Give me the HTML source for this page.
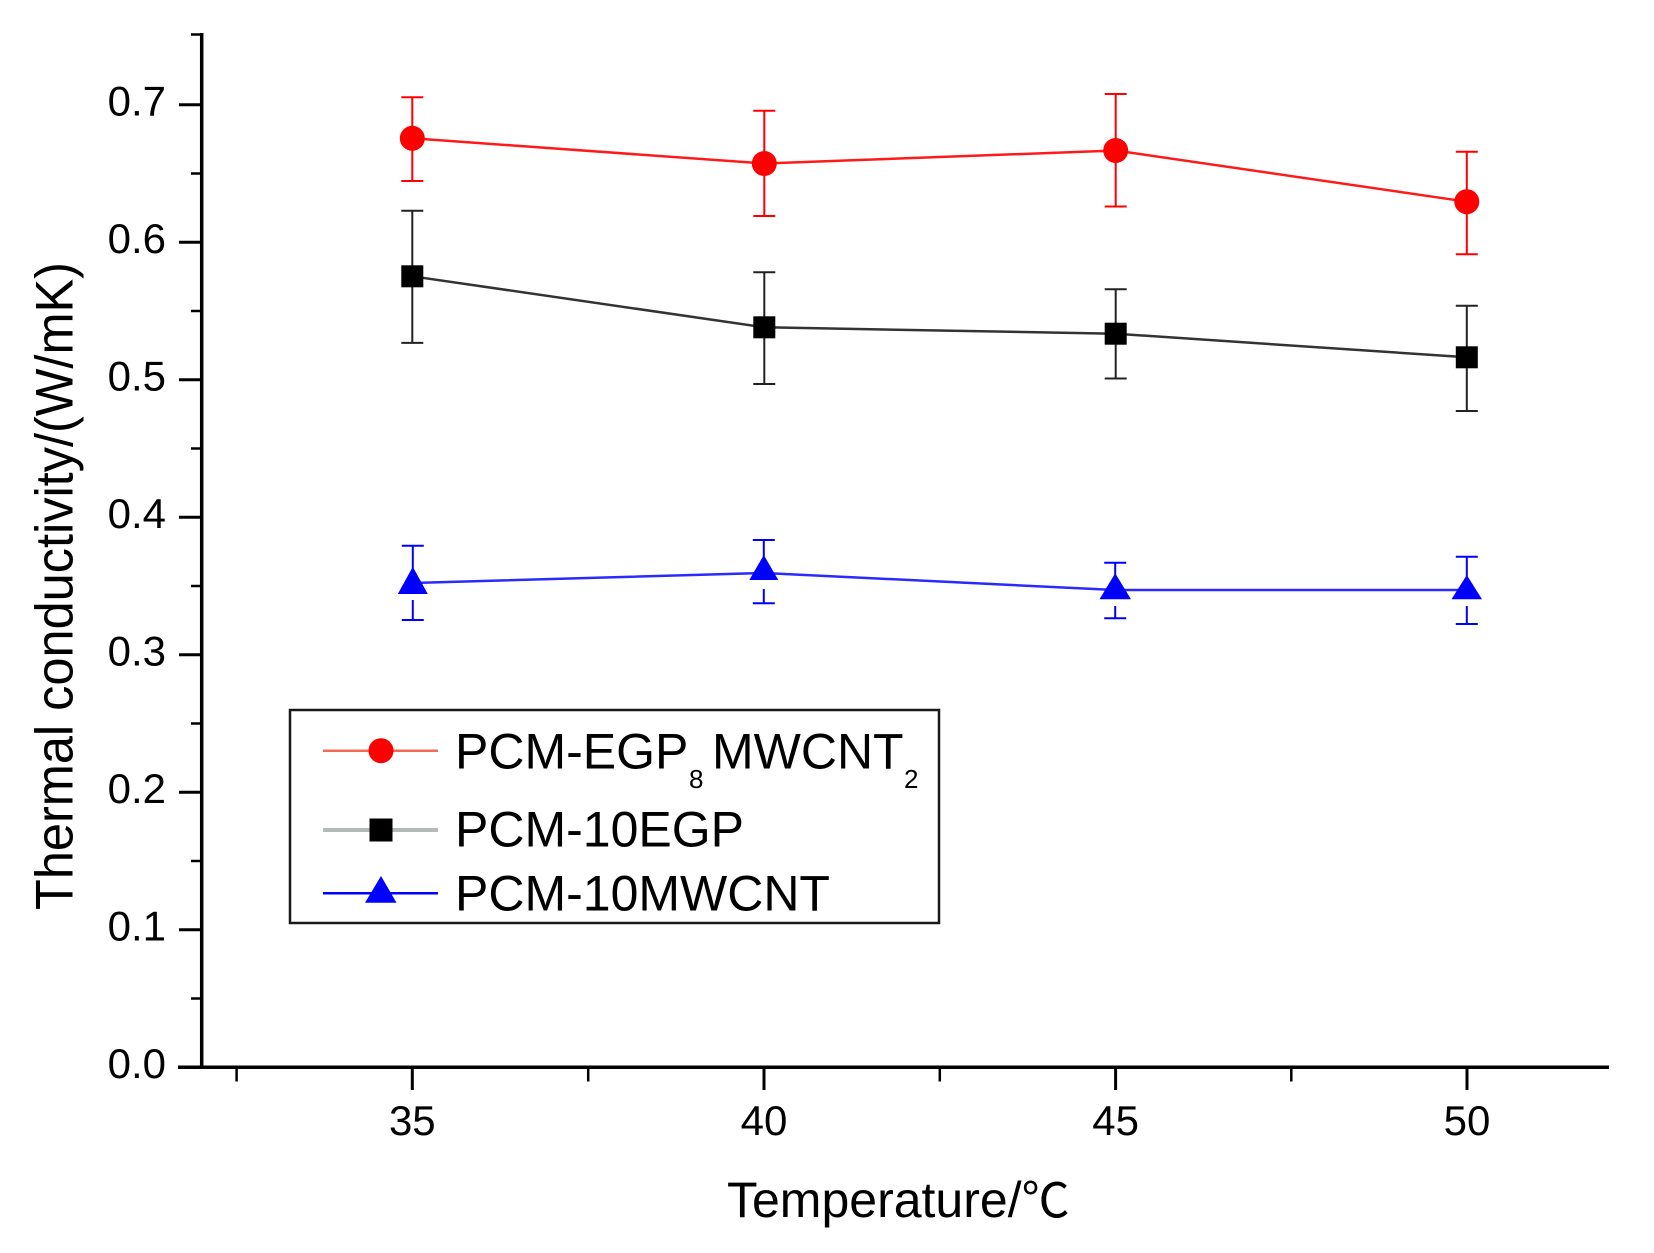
<!DOCTYPE html>
<html>
<head>
<meta charset="utf-8">
<style>
  html, body { margin:0; padding:0; background:#ffffff; }
  svg { display:block; }
  text { font-family: "Liberation Sans", Arial, sans-serif; fill:#000; }
</style>
</head>
<body>
<svg width="1654" height="1253" viewBox="0 0 1654 1253" xmlns="http://www.w3.org/2000/svg">
  <rect x="0" y="0" width="1654" height="1253" fill="#ffffff"/>

  <!-- Axes -->
  <line x1="201.7" y1="33" x2="201.7" y2="1069" stroke="#000" stroke-width="3.5"/>
  <line x1="178" y1="1067.3" x2="1609" y2="1067.3" stroke="#000" stroke-width="3.5"/>

  <!-- Y major ticks -->
  <g stroke="#000" stroke-width="3">
    <line x1="179" y1="1067.3" x2="201.7" y2="1067.3"/>
    <line x1="179" y1="929.8" x2="201.7" y2="929.8"/>
    <line x1="179" y1="792.3" x2="201.7" y2="792.3"/>
    <line x1="179" y1="654.8" x2="201.7" y2="654.8"/>
    <line x1="179" y1="517.3" x2="201.7" y2="517.3"/>
    <line x1="179" y1="379.8" x2="201.7" y2="379.8"/>
    <line x1="179" y1="242.3" x2="201.7" y2="242.3"/>
    <line x1="179" y1="104.8" x2="201.7" y2="104.8"/>
  </g>
  <!-- Y minor ticks -->
  <g stroke="#000" stroke-width="2.5">
    <line x1="191" y1="998.5" x2="201.7" y2="998.5"/>
    <line x1="191" y1="861" x2="201.7" y2="861"/>
    <line x1="191" y1="723.5" x2="201.7" y2="723.5"/>
    <line x1="191" y1="586" x2="201.7" y2="586"/>
    <line x1="191" y1="448.5" x2="201.7" y2="448.5"/>
    <line x1="191" y1="311" x2="201.7" y2="311"/>
    <line x1="191" y1="173.5" x2="201.7" y2="173.5"/>
    <line x1="191" y1="34.5" x2="201.7" y2="34.5"/>
  </g>

  <!-- Y tick labels -->
  <g font-size="42" text-anchor="end">
    <text x="166" y="1078">0.0</text>
    <text x="166" y="940.5">0.1</text>
    <text x="166" y="803">0.2</text>
    <text x="166" y="665.5">0.3</text>
    <text x="166" y="528">0.4</text>
    <text x="166" y="390.5">0.5</text>
    <text x="166" y="253">0.6</text>
    <text x="166" y="115.5">0.7</text>
  </g>

  <!-- X major ticks -->
  <g stroke="#000" stroke-width="3">
    <line x1="412.3" y1="1067" x2="412.3" y2="1090"/>
    <line x1="764" y1="1067" x2="764" y2="1090"/>
    <line x1="1115.6" y1="1067" x2="1115.6" y2="1090"/>
    <line x1="1467" y1="1067" x2="1467" y2="1090"/>
  </g>
  <!-- X minor ticks -->
  <g stroke="#000" stroke-width="2.5">
    <line x1="236.6" y1="1067" x2="236.6" y2="1081.5"/>
    <line x1="588.2" y1="1067" x2="588.2" y2="1081.5"/>
    <line x1="939.8" y1="1067" x2="939.8" y2="1081.5"/>
    <line x1="1291.3" y1="1067" x2="1291.3" y2="1081.5"/>
  </g>

  <!-- X tick labels -->
  <g font-size="42" text-anchor="middle">
    <text x="412.3" y="1135">35</text>
    <text x="764" y="1135">40</text>
    <text x="1115.6" y="1135">45</text>
    <text x="1467" y="1135">50</text>
  </g>

  <!-- Axis titles -->
  <text x="727" y="1217" font-size="50">Temperature/<tspan font-family="'Noto Sans CJK SC', 'WenQuanYi Zen Hei', sans-serif" font-size="48">℃</tspan></text>
  <text transform="translate(72.7,586) rotate(-90)" font-size="53" text-anchor="middle" textLength="648" lengthAdjust="spacingAndGlyphs">Thermal conductivity/(W/mK)</text>

  <!-- ===== Red series: PCM-EGP8MWCNT2 ===== -->
  <g stroke="#ff0000" stroke-width="2" fill="none">
    <line x1="412.3" y1="97.3" x2="412.3" y2="181"/>
    <line x1="401.3" y1="97.3" x2="423.3" y2="97.3"/>
    <line x1="401.3" y1="181" x2="423.3" y2="181"/>
    <line x1="764.3" y1="110.7" x2="764.3" y2="216"/>
    <line x1="753.3" y1="110.7" x2="775.3" y2="110.7"/>
    <line x1="753.3" y1="216" x2="775.3" y2="216"/>
    <line x1="1115.7" y1="94" x2="1115.7" y2="206.5"/>
    <line x1="1104.7" y1="94" x2="1126.7" y2="94"/>
    <line x1="1104.7" y1="206.5" x2="1126.7" y2="206.5"/>
    <line x1="1466.8" y1="151.7" x2="1466.8" y2="254.3"/>
    <line x1="1455.8" y1="151.7" x2="1477.8" y2="151.7"/>
    <line x1="1455.8" y1="254.3" x2="1477.8" y2="254.3"/>
  </g>
  <polyline points="412.3,138.3 764.3,163.5 1115.7,150.5 1466.8,201.7" fill="none" stroke="#ff1a1a" stroke-width="2.5"/>
  <g fill="#ff0000">
    <circle cx="412.3" cy="138.3" r="12.5"/>
    <circle cx="764.3" cy="163.5" r="12.5"/>
    <circle cx="1115.7" cy="150.5" r="12.5"/>
    <circle cx="1466.8" cy="201.7" r="12.5"/>
  </g>

  <!-- ===== Black series: PCM-10EGP ===== -->
  <g stroke="#222" stroke-width="2" fill="none">
    <line x1="412.3" y1="210.7" x2="412.3" y2="342.9"/>
    <line x1="401.3" y1="210.7" x2="423.3" y2="210.7"/>
    <line x1="401.3" y1="342.9" x2="423.3" y2="342.9"/>
    <line x1="764.3" y1="272.3" x2="764.3" y2="384"/>
    <line x1="753.3" y1="272.3" x2="775.3" y2="272.3"/>
    <line x1="753.3" y1="384" x2="775.3" y2="384"/>
    <line x1="1115.7" y1="289.3" x2="1115.7" y2="378.5"/>
    <line x1="1104.7" y1="289.3" x2="1126.7" y2="289.3"/>
    <line x1="1104.7" y1="378.5" x2="1126.7" y2="378.5"/>
    <line x1="1466.8" y1="305.7" x2="1466.8" y2="411"/>
    <line x1="1455.8" y1="305.7" x2="1477.8" y2="305.7"/>
    <line x1="1455.8" y1="411" x2="1477.8" y2="411"/>
  </g>
  <polyline points="412.3,276.3 764.3,327.3 1115.7,333.7 1466.8,357.3" fill="none" stroke="#333" stroke-width="2.5"/>
  <g fill="#000">
    <rect x="401.3" y="265.3" width="22" height="22"/>
    <rect x="753.3" y="316.3" width="22" height="22"/>
    <rect x="1104.7" y="322.7" width="22" height="22"/>
    <rect x="1455.8" y="346.3" width="22" height="22"/>
  </g>

  <!-- ===== Blue series: PCM-10MWCNT ===== -->
  <g stroke="#0000ff" stroke-width="2" fill="none">
    <line x1="412.8" y1="545.7" x2="412.8" y2="570"/>
    <line x1="401.8" y1="545.7" x2="423.8" y2="545.7"/>
    <line x1="412.8" y1="600" x2="412.8" y2="620"/>
    <line x1="401.8" y1="620" x2="423.8" y2="620"/>
    <line x1="763.8" y1="540" x2="763.8" y2="560"/>
    <line x1="752.8" y1="540" x2="774.8" y2="540"/>
    <line x1="763.8" y1="589" x2="763.8" y2="603.3"/>
    <line x1="752.8" y1="603.3" x2="774.8" y2="603.3"/>
    <line x1="1115.2" y1="562.7" x2="1115.2" y2="578"/>
    <line x1="1104.2" y1="562.7" x2="1126.2" y2="562.7"/>
    <line x1="1115.2" y1="606" x2="1115.2" y2="618.3"/>
    <line x1="1104.2" y1="618.3" x2="1126.2" y2="618.3"/>
    <line x1="1466.8" y1="556.7" x2="1466.8" y2="580"/>
    <line x1="1455.8" y1="556.7" x2="1477.8" y2="556.7"/>
    <line x1="1466.8" y1="606" x2="1466.8" y2="624"/>
    <line x1="1455.8" y1="624" x2="1477.8" y2="624"/>
  </g>
  <polyline points="412.8,583 763.8,573 1115.2,590 1466.8,590" fill="none" stroke="#2a2aff" stroke-width="2.5"/>
  <g fill="#0000ff">
    <polygon points="412.8,566.7 397.8,594 427.8,594"/>
    <polygon points="763.8,555 749.3,580 778.3,580"/>
    <polygon points="1115.2,573.3 1099.5,599.3 1131,599.3"/>
    <polygon points="1466.8,575 1451.5,599.3 1482,599.3"/>
  </g>

  <!-- ===== Legend ===== -->
  <rect x="290" y="710" width="649" height="213" fill="#ffffff" stroke="#1a1a1a" stroke-width="2.5"/>
  <line x1="323" y1="750.7" x2="438" y2="750.7" stroke="#f26a5a" stroke-width="2.5"/>
  <circle cx="381" cy="750.7" r="12.5" fill="#ff0000"/>
  <line x1="323" y1="830" x2="438" y2="830" stroke="#b4baba" stroke-width="4"/>
  <rect x="369.5" y="818.5" width="23" height="23" fill="#000"/>
  <line x1="323" y1="893.3" x2="438" y2="893.3" stroke="#0000ff" stroke-width="2.5"/>
  <polygon points="381,876 365,902.7 396.5,902.7" fill="#0000ff"/>

  <text x="455" y="768.3" font-size="50">PCM-EGP</text>
  <text x="689" y="788" font-size="26">8</text>
  <text x="712" y="768.3" font-size="50">MWCNT</text>
  <text x="904" y="788" font-size="26">2</text>
  <text x="455" y="846.7" font-size="50">PCM-10EGP</text>
  <text x="455" y="910.7" font-size="50">PCM-10MWCNT</text>
</svg>
</body>
</html>
